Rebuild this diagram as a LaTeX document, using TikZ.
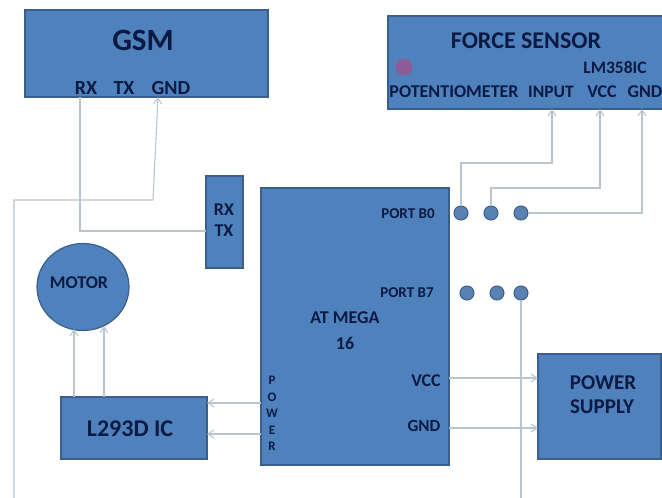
\documentclass[tikz,border=0pt]{standalone}
\usepackage{fontspec}
\setmainfont{Carlito}
\usetikzlibrary{shapes.geometric,arrows.meta}

\definecolor{boxfill}{HTML}{4F81BD}
\definecolor{boxline}{HTML}{3A5F8C}
\definecolor{wirecol}{HTML}{B9C5CE}
\definecolor{inkcol}{HTML}{0B1A42}
\definecolor{potcol}{HTML}{8F5A9A}

\tikzset{
    block/.style={draw=boxline, fill=boxfill, line width=1.2pt, inner sep=0pt},
    pin/.style={circle, draw=boxline, fill=boxfill!80!gray, line width=1pt, minimum size=14pt, inner sep=0pt},
    tag/.style={text=inkcol, inner sep=0pt, font=\fontsize{#1}{#1}\selectfont\bfseries},
    wire/.style={draw=wirecol, line width=1.1pt},
    feed/.style={wire, -{Straight Barb[length=6pt,width=8pt]}}
}

\begin{document}
\begin{tikzpicture}[x=1pt,y=-1pt]
    \useasboundingbox (0,0) rectangle (662,498);

    % Blocchi
    \node[block, minimum width=243pt, minimum height=87pt] (gsm) at (146.5,53.5) {};
    \node[block, minimum width=276pt, minimum height=93pt] (force) at (526,62.5) {};
    \node[block, minimum width=37pt, minimum height=92pt] (serial) at (224.5,222) {};
    \node[block, minimum width=188pt, minimum height=277pt] (atmega) at (355,326.5) {};
    \node[block, ellipse, minimum width=92pt, minimum height=87pt] (motor) at (83,287) {};
    \node[block, minimum width=146pt, minimum height=62pt] (driver) at (134,428) {};
    \node[block, minimum width=123pt, minimum height=105pt] (supply) at (599.5,406.5) {};
    \node[circle, fill=potcol, minimum size=17pt, inner sep=0pt] (pot) at (404,67) {};

    % Testi
    \node[tag=31] (gsmtitle) at (143,40) {GSM};
    \node[tag=20] (gsmrx) at (86,88) {RX};
    \node[tag=20] (gsmtx) at (124,88) {TX};
    \node[tag=20] (gsmgnd) at (171,88) {GND};

    \node[tag=24] (forcetitle) at (526,41) {FORCE SENSOR};
    \node[tag=17.5] (lmchip) at (615,68) {LM358IC};
    \node[tag=18] (potlabel) at (454,92) {POTENTIOMETER};
    \node[tag=17.5] (inputlabel) at (551,92) {INPUT};
    \node[tag=18] (vcclabel) at (602,92) {VCC};
    \node[tag=18] (gndlabel) at (645,92) {GND};

    \node[tag=18] (serialrx) at (224,210) {RX};
    \node[tag=18] (serialtx) at (224,231) {TX};

    \node[tag=15] (portzero) at (408,214) {PORT B0};
    \node[tag=15] (portseven) at (407,293) {PORT B7};
    \node[tag=18] (meganame) at (345,318) {AT MEGA};
    \node[tag=18] (meganum) at (345,343) {16};
    \node[tag=18] (megavcc) at (426,381) {VCC};
    \node[tag=17] (megagnd) at (424,426) {GND};
    \node[tag=13, align=center] (megapower) at (272,413.5) {P\\[3.6pt]O\\[3.6pt]W\\[3.6pt]E\\[3.6pt]R};

    \node[tag=18] (motorlabel) at (79,283) {MOTOR};
    \node[tag=24] (driverlabel) at (130,429) {L293D IC};
    \node[tag=21] (powerlabel) at (603,383) {POWER};
    \node[tag=21] (supplylabel) at (602,407) {SUPPLY};

    % Piedini
    \node[pin] (dotA) at (461,213) {};
    \node[pin] (dotB) at (491,213) {};
    \node[pin] (dotC) at (521,213) {};
    \node[pin] (dotD) at (467,293) {};
    \node[pin] (dotE) at (497,293) {};
    \node[pin] (dotF) at (521,293) {};

    % Punti di attacco
    \coordinate (inputpin) at (552,109);
    \coordinate (vccpin) at (600,109);
    \coordinate (gndpin) at (642,109);
    \coordinate (rxpin) at (80,97);
    \coordinate (gsmgndpin) at (158,97);
    \coordinate (rxbend) at (80,231);
    \coordinate (serialin) at (206,231);
    \coordinate (leftend) at (14,498);
    \coordinate (leftcorner) at (14,200);
    \coordinate (leftbend) at (153,200);
    \coordinate (bottomend) at (521,498);
    \coordinate (motorA) at (74,329);
    \coordinate (motorB) at (104,326);
    \coordinate (driverA) at (74,397);
    \coordinate (driverB) at (104,397);
    \coordinate (megaA) at (261,403);
    \coordinate (driverC) at (207,403);
    \coordinate (megaB) at (261,434);
    \coordinate (driverD) at (207,434);
    \coordinate (megaC) at (449,378);
    \coordinate (supplyA) at (538,378);
    \coordinate (megaD) at (449,428);
    \coordinate (supplyB) at (538,428);

    % Collegamenti
    \draw[feed] (dotA.north) |- (500,163) -| (inputpin);
    \draw[feed] (dotB.north) |- (540,188) -| (vccpin);
    \draw[feed] (dotC.east) -| (gndpin);
    \draw[wire] (rxpin) -- (rxbend) -- (serialin);
    \draw[feed] (leftend) -- (leftcorner) -- (leftbend) -- (gsmgndpin);
    \draw[wire] (dotF.south) -- (bottomend);
    \draw[feed] (driverA) -- (motorA);
    \draw[feed] (driverB) -- (motorB);
    \draw[feed] (megaA) -- (driverC);
    \draw[feed] (megaB) -- (driverD);
    \draw[feed] (megaC) -- (supplyA);
    \draw[feed] (megaD) -- (supplyB);

\end{tikzpicture}
\end{document}
